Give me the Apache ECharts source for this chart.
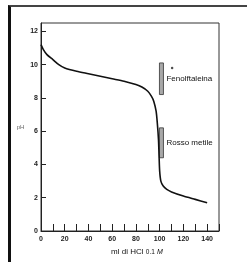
<!DOCTYPE html>
<html>
<head>
<meta charset="utf-8">
<script src="https://cdn.jsdelivr.net/npm/echarts@6/dist/echarts.min.js"></script>
<style>
  html, body { margin: 0; padding: 0; background: #fff; }
  .wrap { position: relative; width: 247px; height: 262px; }
  .frame {
    position: absolute; left: 8px; top: 5px; right: 0; bottom: 0;
    border-top: 2px solid #444; border-left: 3px solid #111;
    pointer-events: none;
  }
  #chart { width: 247px; height: 262px; }
</style>
</head>
<body>
<div class="wrap">
  <div id="chart"></div>
  <div class="frame"></div>
</div>
<script>
// titration curve: ml of HCl 0.1 M vs pH
const mlHCl = [0, 2, 5, 10, 15, 20, 30, 40, 50, 60, 70, 80, 85, 90, 93, 95, 97, 98, 99, 99.5, 100, 101, 103, 106, 110, 120, 130, 140];
const pH = [11.2, 10.9, 10.6, 10.3, 10.0, 9.8, 9.6, 9.45, 9.3, 9.15, 9.0, 8.8, 8.65, 8.4, 8.1, 7.8, 7.2, 6.5, 5.5, 4.5, 3.6, 3.0, 2.7, 2.5, 2.35, 2.1, 1.9, 1.7];

// indicator ranges
const indicatorNames = ['Fenolftaleina', 'Rosso metile'];
const indicatorX = [101.5, 101.5];
const indicatorLow = [8.2, 4.4];
const indicatorHigh = [10.1, 6.2];

// small mark next to the phenolphthalein label
const dotPoint = [110.5, 9.8];

const chart = echarts.init(document.getElementById('chart'));
const font = 'Liberation Sans';

chart.setOption({
  animation: false,
  grid: {
    left: 41, right: 28, top: 23, bottom: 31,
    show: true, borderColor: '#333', borderWidth: 1
  },
  xAxis: {
    type: 'value', min: 0, max: 150, interval: 10,
    name: 'ml di HCl {s|0.1} {i|M}',
    nameLocation: 'middle', nameGap: 17,
    nameTextStyle: {
      fontFamily: font, fontSize: 8, color: '#111', padding: [0, 0, 0, 14],
      rich: {
        s: { fontFamily: font, fontSize: 6.5, color: '#111' },
        i: { fontFamily: font, fontSize: 7, fontStyle: 'italic', color: '#111' }
      }
    },
    axisLine: { lineStyle: { color: '#222', width: 1 } },
    axisTick: { inside: true, length: 7, lineStyle: { color: '#222' } },
    axisLabel: {
      fontFamily: font, fontSize: 7, fontWeight: 'bold', color: '#222', margin: 5,
      formatter: v => (v % 20 === 0 && v <= 140 ? String(v) : '')
    },
    splitLine: { show: false }
  },
  yAxis: {
    type: 'value', min: 0, max: 12.5, interval: 2,
    name: 'pH', nameLocation: 'middle', nameGap: 16, nameRotate: 0,
    nameTextStyle: { fontFamily: font, fontSize: 6, color: '#666', padding: [22, 0, 0, 0] },
    axisLine: { lineStyle: { color: '#222', width: 1 } },
    axisTick: { inside: true, length: 5, lineStyle: { color: '#222' } },
    axisLabel: {
      fontFamily: font, fontSize: 7, fontWeight: 'bold', color: '#222', margin: 3,
      showMaxLabel: false,
      formatter: v => (v % 2 === 0 ? String(v) : '')
    },
    splitLine: { show: false }
  },
  series: [
    {
      type: 'line',
      data: mlHCl.map((x, i) => [x, pH[i]]),
      smooth: 0.25,
      showSymbol: false,
      lineStyle: { color: '#111', width: 1.6 }
    },
    {
      type: 'custom',
      data: indicatorNames.map((n, i) => [indicatorX[i], indicatorLow[i], indicatorHigh[i]]),
      renderItem: (params, api) => {
        const top = api.coord([api.value(0), api.value(2)]);
        const bot = api.coord([api.value(0), api.value(1)]);
        return {
          type: 'group',
          children: [
            {
              type: 'rect',
              shape: { x: top[0] - 2, y: top[1], width: 4, height: bot[1] - top[1] },
              style: { fill: '#a8a8a8', stroke: '#333', lineWidth: 0.8 }
            },
            {
              type: 'text',
              x: top[0] + 5, y: (top[1] + bot[1]) / 2,
              style: {
                text: indicatorNames[params.dataIndex],
                fill: '#111', font: '8px ' + font,
                verticalAlign: 'middle', align: 'left'
              }
            }
          ]
        };
      }
    },
    {
      type: 'scatter',
      data: [dotPoint],
      symbolSize: 2.5,
      itemStyle: { color: '#222' }
    }
  ]
});
</script>
</body>
</html>
